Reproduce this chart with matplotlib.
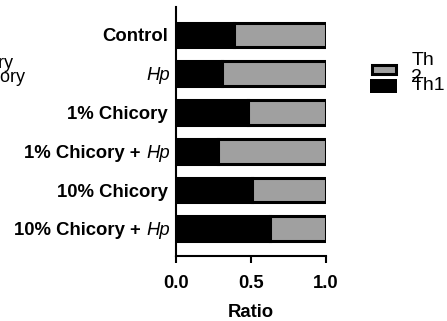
import matplotlib
matplotlib.use('Agg')
import matplotlib.pyplot as plt
from matplotlib.patches import Rectangle
from matplotlib.transforms import offset_copy
import numpy as np

plt.rcParams['font.family'] = 'Liberation Sans'

# groups, top to bottom
groups = ['Control', 'Hp', '1% Chicory', '1% Chicory + Hp', '10% Chicory', '10% Chicory + Hp']
th1 = [0.39, 0.31, 0.48, 0.28, 0.51, 0.63]
th2 = [0.61, 0.69, 0.52, 0.72, 0.49, 0.37]

fig = plt.figure(figsize=(4.47, 3.21), dpi=100)
ax = fig.add_axes([0.3937, 0.2025, 0.335, 0.7757])

y = np.arange(len(groups))
gray = '#a0a0a0'
ax.barh(y, th1, height=0.64, color='black', edgecolor='black', linewidth=2.2)
ax.barh(y, th2, left=th1, height=0.64, color=gray, edgecolor='black', linewidth=2.2)

ax.set_ylim(len(groups) - 0.3, -0.72)
ax.set_xlim(0, 1.0)
ax.set_yticks(y)
ax.set_yticklabels([])
ax.tick_params(axis='y', length=0)
ax.set_xticks([0, 0.5, 1.0])
ax.set_xticklabels(['0.0', '0.5', '1.0'], fontsize=13.3, fontweight='bold')
ax.tick_params(axis='x', length=5, width=1.5, pad=8.5)
ax.set_xlabel('Ratio', fontsize=13.3, fontweight='bold', labelpad=9)
for s in ['top', 'right']:
    ax.spines[s].set_visible(False)
for s in ['left', 'bottom']:
    ax.spines[s].set_linewidth(1.5)

# y labels: bold group name, italic Hp in normal weight
renderer = fig.canvas.get_renderer()
ytrans = ax.get_yaxis_transform()
fs = 13.3
for yi, g in zip(y, groups):
    if g == 'Hp' or g.endswith(' + Hp'):
        t = ax.text(0, yi, 'Hp', transform=offset_copy(ytrans, fig, x=-6, y=0, units='dots'),
                    ha='right', va='center_baseline', style='italic', fontsize=fs)
        w = t.get_window_extent(renderer).width
        rest = g[:-2].strip()
        if rest:
            ax.text(0, yi, rest, transform=offset_copy(ytrans, fig, x=-6 - w - 6, y=0, units='dots'),
                    ha='right', va='center_baseline', fontweight='bold', fontsize=fs)
    else:
        ax.text(0, yi, g, transform=offset_copy(ytrans, fig, x=-8, y=0, units='dots'),
                ha='right', va='center_baseline', fontweight='bold', fontsize=fs)

# legend, drawn by hand
W, H = 447.0, 321.0
fig.add_artist(Rectangle((370 / W, 1 - 92.7 / H), 27 / W, 13.4 / H, transform=fig.transFigure,
                         facecolor='black', edgecolor='none'))
fig.add_artist(Rectangle((371.5 / W, 1 - 74.2 / H), 24 / W, 9.4 / H, transform=fig.transFigure,
                         facecolor=gray, edgecolor='black', linewidth=2.2))
fig.text(411.5 / W, 1 - 65 / H, 'Th', fontsize=14, va='baseline', ha='left')
fig.text(411.5 / W, 1 - 82 / H, '2', fontsize=14, va='baseline', ha='left')
fig.text(412 / W, 1 - 90 / H, 'Th1', fontsize=14, va='baseline', ha='left')

# clipped text from a neighbouring panel
fig.text(13 / W, 1 - 68 / H, 'Chicory', fontsize=13, va='baseline', ha='right')
fig.text(25 / W, 1 - 82 / H, 'Chicory', fontsize=13, va='baseline', ha='right')

fig.savefig('out.png', dpi=100)
